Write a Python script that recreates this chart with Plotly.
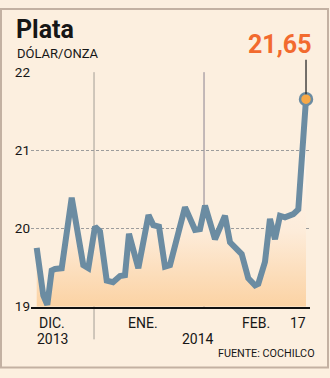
import plotly.graph_objects as go

# Precio de la plata (US$/onza), sesiones desde inicios de diciembre de 2013
sesion = [0.0, 1.47, 2.36, 3.34, 4.08, 5.57, 7.80, 9.65, 10.38, 11.50,
          12.99, 14.10, 15.60, 17.0, 18.56, 19.67, 20.56, 22.64, 24.91, 25.98,
          27.25, 28.58, 29.70, 33.04, 35.27, 36.38, 37.50, 39.72, 41.95, 43.07,
          44.92, 45.67, 47.14, 48.64, 49.37, 50.86, 51.97, 53.09, 54.20, 55.32,
          57.17, 58.28, 60.0]
precio = [19.75, 19.14, 19.02, 19.46, 19.48, 19.49, 20.39, 19.78, 19.53, 19.49,
          20.02, 19.96, 19.33, 19.31, 19.39, 19.40, 19.93, 19.49, 20.17, 20.04,
          20.02, 19.51, 19.53, 20.27, 19.98, 19.99, 20.29, 19.86, 20.16, 19.82,
          19.71, 19.67, 19.36, 19.27, 19.29, 19.57, 20.12, 19.86, 20.16, 20.14,
          20.18, 20.24, 21.65]

ticks_y = [19, 20, 21, 22]
meses = ["DIC.", "ENE.", "FEB."]
pos_meses = [3.5, 23.7, 48.9]
anios = ["2013", "2014"]
pos_anios = [3.6, 35.9]
dia_final = "17"
separadores = [12.77, 37.28]

FONDO = "#fcefdf"
LINEA = "#6b8ca2"
NARANJA = "#f26a2e"
TEXTO = "#161616"
FUENTE = "Roboto, 'Open Sans', sans-serif"

W, H = 330, 378


def py(px):
    """Convierte una posición vertical en píxeles a coordenada de papel."""
    return 1 - px / H


fig = go.Figure()

fig.add_trace(go.Scatter(
    x=sesion, y=precio, mode="lines",
    line=dict(color=LINEA, width=6),
    fill="tozeroy",
    fillgradient=dict(type="vertical", start=19, stop=21.65,
                      colorscale=[[0, "#fbcf9c"], [0.4, "#fdecda"], [1, "#fffdfa"]]),
    hoverinfo="skip", showlegend=False,
))

fig.add_trace(go.Scatter(
    x=[sesion[-1]], y=[precio[-1]], mode="markers",
    marker=dict(size=12, color="#f7a846", line=dict(color=LINEA, width=2.5)),
    hoverinfo="skip", showlegend=False, cliponaxis=False,
))

shapes = [
    dict(type="line", xref="x", yref="paper", x0=separadores[0], x1=separadores[0],
         y0=py(346), y1=py(67), line=dict(color="#a39d96", width=1), layer="below"),
    dict(type="line", xref="x", yref="paper", x0=separadores[1], x1=separadores[1],
         y0=py(312), y1=py(67), line=dict(color="#8a8290", width=1), layer="below"),
    dict(type="rect", xref="paper", yref="paper", x0=0.003, x1=1 - 2 / W,
         y0=2.5 / H, y1=1 - 1 / H, line=dict(color="#c3b1a2", width=2)),
]

anns = [
    dict(text="<b>Plata</b>", x=14 / W, y=py(22), xref="paper", yref="paper",
         xanchor="left", yanchor="middle", showarrow=False,
         font=dict(family=FUENTE, size=25, color=TEXTO)),
    dict(text="DÓLAR/ONZA", x=15 / W, y=py(48), xref="paper", yref="paper",
         xanchor="left", yanchor="middle", showarrow=False,
         font=dict(family=FUENTE, size=13, color=TEXTO)),
    # línea de llamada hacia el último dato
    dict(text="", x=sesion[-1], y=precio[-1], xref="x", yref="y",
         ax=0, ay=-41, showarrow=True, arrowhead=0, arrowwidth=1.3,
         arrowcolor="#2a2a2a", standoff=5),
    dict(text="<b>" + f"{precio[-1]:.2f}".replace(".", ",") + "</b>",
         x=sesion[-1], y=precio[-1], xref="x", yref="y",
         xanchor="right", yanchor="middle", xshift=8, yshift=55, showarrow=False,
         font=dict(family=FUENTE, size=25, color=NARANJA)),
    dict(text=dia_final, x=60.45, y=py(329), xref="x", yref="paper",
         xanchor="right", yanchor="middle", showarrow=False,
         font=dict(family=FUENTE, size=14, color=TEXTO)),
    dict(text="FUENTE: COCHILCO", x=317 / W, y=py(361), xref="paper", yref="paper",
         xanchor="right", yanchor="middle", showarrow=False,
         font=dict(family=FUENTE, size=10.8, color=TEXTO)),
]
for m, p in zip(meses, pos_meses):
    anns.append(dict(text=m, x=p, y=py(329), xref="x", yref="paper",
                     xanchor="center", yanchor="middle", showarrow=False,
                     font=dict(family=FUENTE, size=14, color=TEXTO)))
for a, p in zip(anios, pos_anios):
    anns.append(dict(text=a, x=p, y=py(346), xref="x", yref="paper",
                     xanchor="center", yanchor="middle", showarrow=False,
                     font=dict(family=FUENTE, size=14, color=TEXTO)))

fig.update_layout(
    width=W, height=H,
    margin=dict(l=0, r=0, t=0, b=0),
    paper_bgcolor=FONDO, plot_bgcolor=FONDO,
    shapes=shapes, annotations=anns,
    xaxis=dict(domain=[31 / W, 310 / W], range=[-1.27, 60.89],
               showgrid=False, zeroline=False, showticklabels=False,
               showline=True, linecolor="#111", linewidth=1.5, ticks=""),
    yaxis=dict(domain=[py(311.7), py(66.6)], range=[19, 22],
               tickvals=ticks_y, ticktext=[str(t) for t in ticks_y],
               showgrid=True, gridcolor="#9c9c9c", gridwidth=1, griddash="3px,2px",
               zeroline=False, showline=False, ticks="",
               tickfont=dict(family=FUENTE, size=13.5, color=TEXTO)),
    showlegend=False,
)

fig.write_html("out.html")
